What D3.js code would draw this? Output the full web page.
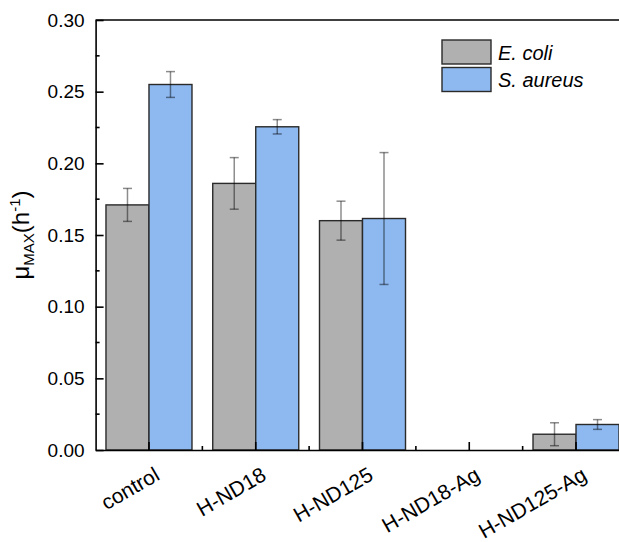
<!DOCTYPE html>
<html>
<head>
<meta charset="utf-8">
<script src="https://cdn.jsdelivr.net/npm/d3@7"></script>
<style>
  body { margin: 0; background: #fff; }
  text { font-family: "Liberation Sans", Arial, sans-serif; }
</style>
</head>
<body>
<svg width="619" height="542"></svg>
<script>
const width = 619
const height = 542

// data
const categories = ['control', 'H-ND18', 'H-ND125', 'H-ND18-Ag', 'H-ND125-Ag']
const series = ['E. coli', 'S. aureus']
const ecoli = [0.171, 0.186, 0.160, 0, 0.011]
const ecoliErr = [0.0115, 0.018, 0.0136, 0, 0.008]
const saureus = [0.255, 0.2255, 0.1615, 0, 0.0178]
const saureusErr = [0.009, 0.005, 0.046, 0, 0.0034]
const yTicks = [0, 0.05, 0.10, 0.15, 0.20, 0.25, 0.30]
const yMinor = [0.025, 0.075, 0.125, 0.175, 0.225, 0.275]

const colors = ['#b0b0b0', '#8db8f0']

const margin = {left: 95.6, right: 629.4, top: 20, bottom: 450}

const svg = d3.select('svg')

const x = d3.scaleBand()
  .domain(categories)
  .range([margin.left, margin.right])
  .padding(0)

const xs = d3.scaleBand()
  .domain(series)
  .range([0, x.bandwidth()])
  .paddingOuter(0.2413)
  .paddingInner(0)

const y = d3.scaleLinear()
  .domain([0, 0.30])
  .range([margin.bottom, margin.top])

// table built from the arrays
const rows = categories.map((c, i) => [
  {cat: c, s: series[0], v: ecoli[i], e: ecoliErr[i], col: colors[0]},
  {cat: c, s: series[1], v: saureus[i], e: saureusErr[i], col: colors[1]}
]).flat().filter(d => d.v > 0)

// bars
svg.append('g')
  .selectAll('rect')
  .data(rows)
  .join('rect')
    .attr('x', d => x(d.cat) + xs(d.s))
    .attr('y', d => y(d.v))
    .attr('width', xs.bandwidth())
    .attr('height', d => y(0) - y(d.v))
    .attr('fill', d => d.col)
    .attr('stroke', '#2a2a2a')
    .attr('stroke-width', 1.4)

// error bars
const eb = svg.append('g')
  .attr('stroke', '#000')
  .attr('stroke-opacity', 0.45)
  .attr('stroke-width', 1.5)
  .selectAll('g')
  .data(rows)
  .join('g')
    .attr('transform', d => `translate(${x(d.cat) + xs(d.s) + xs.bandwidth() / 2},0)`)

eb.append('line')
  .attr('y1', d => y(d.v + d.e))
  .attr('y2', d => y(d.v - d.e))
eb.append('line')
  .attr('x1', -4.5).attr('x2', 4.5)
  .attr('y1', d => y(d.v + d.e)).attr('y2', d => y(d.v + d.e))
eb.append('line')
  .attr('x1', -4.5).attr('x2', 4.5)
  .attr('y1', d => y(d.v - d.e)).attr('y2', d => y(d.v - d.e))

// y axis, inside ticks
const yAxis = svg.append('g')
  .attr('transform', `translate(${margin.left},0)`)
  .call(d3.axisLeft(y).tickValues(yTicks).tickSizeInner(-8).tickSizeOuter(0)
    .tickPadding(11).tickFormat(d3.format('.2f')))
yAxis.call(g => g.select('.domain').attr('stroke', '#000').attr('stroke-width', 1.6))
yAxis.selectAll('.tick line').attr('stroke-width', 1.6)
yAxis.selectAll('.tick text')
  .attr('font-size', 19)
  .attr('fill', '#000')
  .attr('font-family', '"Liberation Sans", Arial, sans-serif')

svg.append('g')
  .selectAll('line')
  .data(yMinor)
  .join('line')
    .attr('x1', margin.left).attr('x2', margin.left + 4)
    .attr('y1', d => y(d)).attr('y2', d => y(d))
    .attr('stroke', '#000').attr('stroke-width', 1.6)

// x axis, inside ticks
const xAxis = svg.append('g')
  .attr('transform', `translate(0,${margin.bottom})`)
  .call(d3.axisBottom(x).tickSizeInner(-8).tickSizeOuter(0).tickFormat(''))
xAxis.call(g => g.select('.domain').attr('stroke', '#000').attr('stroke-width', 1.6))
xAxis.selectAll('.tick line').attr('stroke-width', 1.6)

svg.append('g')
  .selectAll('line')
  .data(categories.slice(1))
  .join('line')
    .attr('x1', d => x(d)).attr('x2', d => x(d))
    .attr('y1', margin.bottom).attr('y2', margin.bottom - 4)
    .attr('stroke', '#000').attr('stroke-width', 1.6)

svg.append('g')
  .selectAll('text')
  .data(categories)
  .join('text')
    .attr('transform', d => `translate(${x(d) + x.bandwidth() / 2 + 12},479) rotate(-30)`)
    .attr('text-anchor', 'end')
    .attr('font-size', 21)
    .attr('fill', '#000')
    .text(d => d)

// top and right frame
svg.append('line')
  .attr('x1', margin.left).attr('x2', margin.right)
  .attr('y1', margin.top).attr('y2', margin.top)
  .attr('stroke', '#000').attr('stroke-width', 1.6)
svg.append('line')
  .attr('x1', margin.right).attr('x2', margin.right)
  .attr('y1', margin.top).attr('y2', margin.bottom)
  .attr('stroke', '#000').attr('stroke-width', 1.6)

// y label
const yl = svg.append('text')
  .attr('transform', `translate(29,${(margin.top + margin.bottom) / 2}) rotate(-90)`)
  .attr('text-anchor', 'middle')
  .attr('font-size', 24)
  .attr('fill', '#000')
yl.append('tspan').text('μ')
yl.append('tspan').attr('font-size', 15).attr('dy', 5).text('MAX')
yl.append('tspan').attr('dy', -5).text('(h')
yl.append('tspan').attr('font-size', 15).attr('dy', -9).text('-1')
yl.append('tspan').attr('dy', 9).text(')')

// legend
const lg = svg.append('g')
  .selectAll('g')
  .data(series)
  .join('g')
    .attr('transform', (d, i) => `translate(442,${40 + i * 27.5})`)
lg.append('rect')
  .attr('width', 49).attr('height', 24)
  .attr('fill', (d, i) => colors[i])
  .attr('stroke', '#2a2a2a').attr('stroke-width', 1.4)
lg.append('text')
  .attr('x', 56).attr('y', 19.5)
  .attr('font-size', 20)
  .attr('font-style', 'italic')
  .attr('fill', '#000')
  .text(d => d)
</script>
</body>
</html>
